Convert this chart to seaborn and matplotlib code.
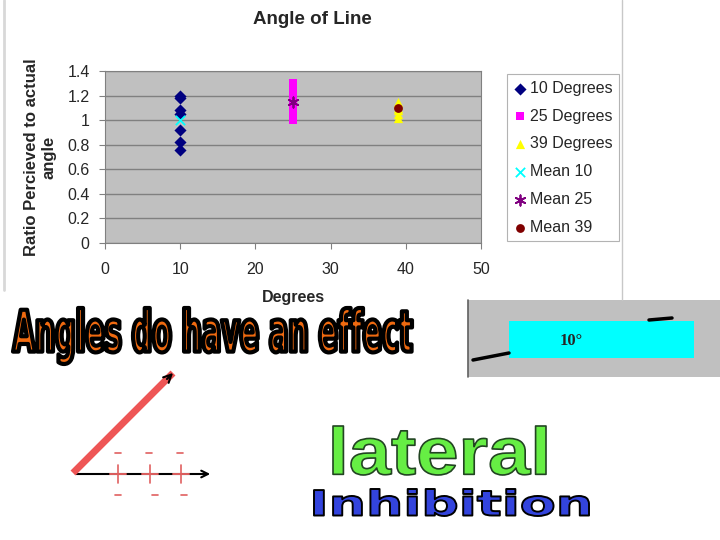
import matplotlib
matplotlib.use("Agg")
import matplotlib.pyplot as plt
import seaborn as sns
import pandas as pd
from matplotlib.textpath import TextPath
from matplotlib.font_manager import FontProperties
from matplotlib.patches import PathPatch, Rectangle
from matplotlib.path import Path

# data
deg10_x = [10, 10, 10, 10, 10, 10, 10]
deg10_y = [1.20, 1.18, 1.08, 1.05, 0.92, 0.82, 0.76]
deg25_x = [25] * 12
deg25_y = [1.30, 1.28, 1.25, 1.22, 1.20, 1.17, 1.15, 1.12, 1.10, 1.07, 1.02, 1.00]
deg39_x = [39] * 6
deg39_y = [1.15, 1.12, 1.10, 1.08, 1.05, 1.02]
mean_x = [10, 25, 39]
mean_y = [1.00, 1.15, 1.10]

x_ticks = [0, 10, 20, 30, 40, 50]
y_ticks = [0, 0.2, 0.4, 0.6, 0.8, 1, 1.2, 1.4]
y_tick_labels = ["0", "0.2", "0.4", "0.6", "0.8", "1", "1.2", "1.4"]

sns.set_style("white")
plt.rcParams["font.family"] = ["Liberation Sans", "DejaVu Sans"]

W, H = 720, 540
fig = plt.figure(figsize=(7.2, 5.4), dpi=100)


def box(x0, y0, x1, y1):
    # pixel box (top-left origin) -> figure fraction
    return [x0 / W, 1 - y1 / H, (x1 - x0) / W, (y1 - y0) / H]


# ---- Excel chart ----
ax = fig.add_axes(box(105, 71, 481, 243))
ax.set_facecolor("#C0C0C0")

series = [
    ("10 Degrees", deg10_x, deg10_y, "D", "#000080", 38),
    ("25 Degrees", deg25_x, deg25_y, "s", "#FF00FF", 36),
    ("39 Degrees", deg39_x, deg39_y, "^", "#FFFF00", 44),
    ("Mean 10", mean_x[:1], mean_y[:1], "x", "#00FFFF", 45),
    ("Mean 25", mean_x[1:2], mean_y[1:2], (6, 2, 0), "#800080", 55),
    ("Mean 39", mean_x[2:], mean_y[2:], "o", "#800000", 40),
]
for name, xs, ys, mk, col, sz in series:
    df = pd.DataFrame({"Degrees": xs, "Ratio": ys})
    kw = dict(linewidth=1.3) if mk == "x" or isinstance(mk, tuple) else dict(linewidth=0)
    sns.scatterplot(data=df, x="Degrees", y="Ratio", marker=mk, color=col,
                    s=sz, label=name, ax=ax, zorder=3, **kw)

ax.set_xlim(0, 50)
ax.set_ylim(0, 1.4)
ax.set_xticks(x_ticks)
ax.set_yticks(y_ticks)
ax.set_yticklabels(y_tick_labels)
ax.tick_params(axis="both", labelsize=11.5, length=4, direction="out",
               color="#808080", left=True, bottom=True)
ax.tick_params(axis="x", pad=10)
ax.tick_params(axis="y", pad=7)
ax.yaxis.grid(True, color="#808080", linewidth=1)
ax.set_axisbelow(True)
for sp in ax.spines.values():
    sp.set_color("#808080")
ax.set_xlabel("Degrees", fontsize=11.5, fontweight="bold", labelpad=9)
ax.set_ylabel("Ratio Percieved to actual\nangle", fontsize=12,
              fontweight="bold", labelpad=8, linespacing=1.15)
fig.text(312 / W, 1 - 20 / H, "Angle of Line", fontsize=13.5, fontweight="bold",
         ha="center", va="center")

leg = ax.legend(loc="upper left", bbox_to_anchor=(1.07, 0.98), fontsize=11.5,
                frameon=True, fancybox=False, edgecolor="#A0A0A0",
                handletextpad=0.2, borderpad=0.4, labelspacing=0.8,
                handlelength=0.8, borderaxespad=0)
leg.get_frame().set_linewidth(0.8)

# ---- slide decorations ----
ov = fig.add_axes([0, 0, 1, 1], zorder=5)
ov.set_xlim(0, W)
ov.set_ylim(H, 0)
ov.axis("off")
ov.patch.set_alpha(0)

# chart frame lines
ov.plot([4, 4], [0, 290], color="#D8D8D8", lw=2)
ov.plot([622, 622], [0, 300], color="#C8C8C8", lw=1)


def fit_text(s, x0, y0, x1, y1, face, edge, lw, family, weight="bold"):
    tp = TextPath((0, 0), s, size=100, prop=FontProperties(family=family, weight=weight))
    bb = tp.get_extents()
    sx = (x1 - x0) / bb.width
    sy = (y1 - y0) / bb.height
    verts = [(x0 + (vx - bb.x0) * sx, y1 - (vy - bb.y0) * sy) for vx, vy in tp.vertices]
    ov.add_patch(PathPatch(Path(verts, tp.codes), facecolor=face, edgecolor=edge,
                           lw=lw, joinstyle="round"))


fit_text("Angles do have an effect", 13, 308, 412, 364, "#F06A10", "black", 3.0,
         ["Liberation Sans Narrow", "DejaVu Sans"])
fit_text("lateral", 333, 426, 546, 475, "#66EE44", "#224422", 1.2,
         ["Liberation Sans", "DejaVu Sans"])
fit_text("Inhibition", 314, 489, 589, 516, "#3344DD", "black", 1.4,
         ["DejaVu Sans", "Liberation Sans"])

# 10 degree inset
ov.add_patch(Rectangle((468, 300), 252, 77, facecolor="#C0C0C0", edgecolor="none"))
ov.plot([468, 468], [300, 377], color="#606060", lw=1.2)
ov.plot([473, 509], [360, 353], color="black", lw=2.5, solid_capstyle="round")
ov.plot([649, 672], [320, 318], color="black", lw=2.5, solid_capstyle="round")
ov.add_patch(Rectangle((509, 321), 185, 37, facecolor="#00FFFF", edgecolor="none"))
ov.text(560, 341, "10°", fontsize=12, fontweight="bold", va="center", ha="left",
        family=["Liberation Serif", "DejaVu Serif"])

# angle sketch
ov.annotate("", xy=(213, 474), xytext=(73, 474), zorder=2,
            arrowprops=dict(arrowstyle="->", color="black", lw=1.5, mutation_scale=12))
ov.plot([73, 173], [473, 373], color="#EE5555", lw=5, solid_capstyle="butt", zorder=3)
ov.annotate("", xy=(175, 371), xytext=(165, 381), zorder=4,
            arrowprops=dict(arrowstyle="->", color="black", lw=1.5, mutation_scale=14))
for cx in [118, 150, 181]:
    ov.plot([cx - 8, cx + 8], [474, 474], color="#E06060", lw=1.4, zorder=5)
    ov.plot([cx, cx], [465, 483], color="#E06060", lw=1.2, zorder=5)
for cx in [118, 149, 180]:
    ov.plot([cx - 3, cx + 3], [453, 453], color="#E06060", lw=1.2)
for cx in [118, 155, 184]:
    ov.plot([cx - 3, cx + 3], [495, 495], color="#E06060", lw=1.2)

fig.savefig("out.png", dpi=100)
